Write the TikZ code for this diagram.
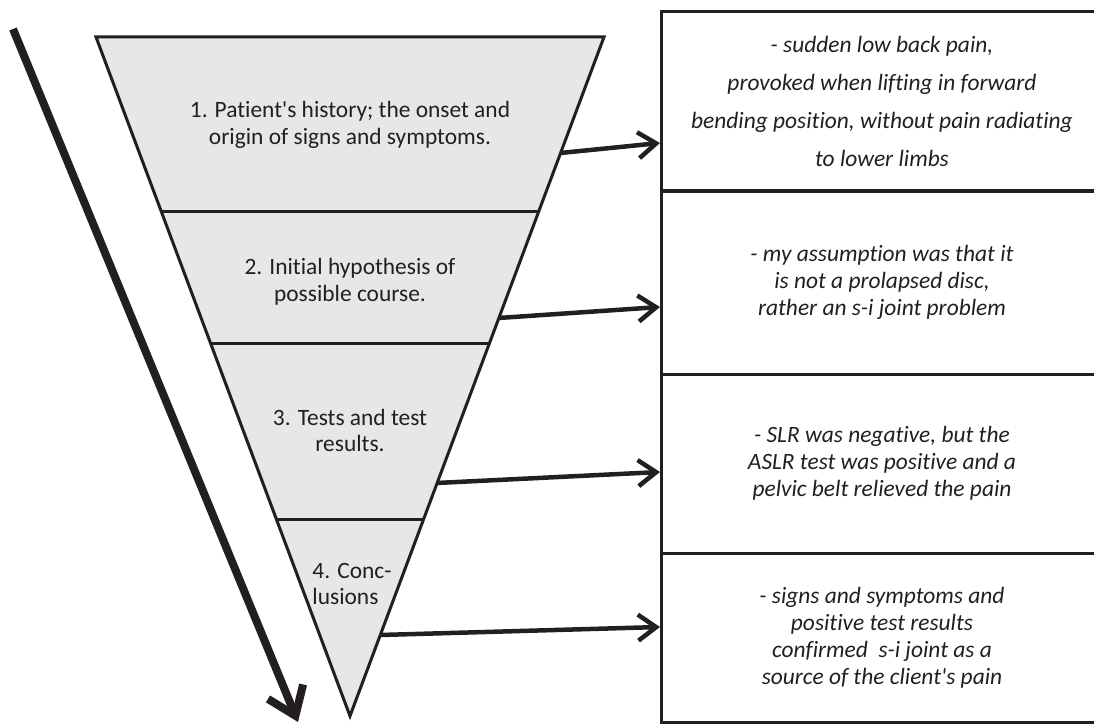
\documentclass[tikz,border=0pt]{standalone}
\usepackage{fontspec}
\setmainfont{Carlito}[Ligatures={NoCommon}]
\usetikzlibrary{arrows.meta,calc}
\definecolor{ink}{RGB}{35,31,32}
\definecolor{funnel}{RGB}{232,230,232}
\begin{document}
\begin{tikzpicture}[x=1bp,y=-1bp,
  lab/.style={font=\fontsize{23.5}{27}\selectfont, text=ink, align=center, inner sep=0pt},
  note/.style={draw=ink, line width=3bp, minimum width=442bp, inner sep=0pt,
    font=\fontsize{23.5}{27}\selectfont\itshape, text=ink, align=center},
  conn/.style={draw=ink, line width=4.5bp, -{Straight Barb[length=18bp,width=26bp]}},
  edge/.style={draw=ink, line width=3bp},
]
\useasboundingbox (0,0) rectangle (1094,726);
\clip (0,0) rectangle (1094,726);
% right boxes
\node[note, minimum height=179bp, font=\fontsize{23.5}{38}\selectfont\itshape] (b1) at (882,101.5)
  {- sudden low back pain,\\provoked when lifting in forward\\bending position, without pain radiating\\to lower limbs};
\node[note, minimum height=183bp] (b2) at (882,282.5)
  {- my assumption was that it\\is not a prolapsed disc,\\rather an s-i joint problem};
\node[note, minimum height=179bp] (b3) at (882,463.5)
  {- SLR was negative, but the\\ASLR test was positive and a\\pelvic belt relieved the pain};
\node[note, minimum height=169bp] (b4) at (882,637.5)
  {- signs and symptoms and\\positive test results\\confirmed\ \ s-i joint as a\\source of the client\textquotesingle s pain};
% funnel
\coordinate (A) at (96,37);
\coordinate (B) at (604,37);
\coordinate (C) at (350,716);
\filldraw[fill=funnel, edge] (A) -- (B) -- (C) -- cycle;
\foreach \t in {0.2563,0.4507,0.7099}
  \draw[edge] ($(A)!\t!(C)$) -- ($(B)!\t!(C)$);
\node[lab] (l1) at (350,125) {1. Patient\textquotesingle s history; the onset and\\origin of signs and symptoms.};
\node[lab] (l2) at (350,281.5) {2. Initial hypothesis of\\possible course.};
\node[lab] (l3) at (350,430.5) {3. Tests and test\\results.};
\node[lab, align=left] (l4) at (352,584) {4. Conc-\\lusions};
% connectors
\coordinate (p1) at ($(B)!0.1708!(C)$);
\coordinate (p2) at ($(B)!0.4138!(C)$);
\coordinate (p3) at ($(B)!0.6568!(C)$);
\coordinate (p4) at ($(B)!0.8807!(C)$);
\coordinate (t1) at (660,143);
\coordinate (t2) at (660,307);
\coordinate (t3) at (660,472);
\coordinate (t4) at (660,627);
\draw[conn] (p1) -- (t1);
\draw[conn] (p2) -- (t2);
\draw[conn] (p3) -- (t3);
\draw[conn] (p4) -- (t4);
% big arrow
\coordinate (s) at (13,29);
\coordinate (e) at (298,722);
\draw[ink, line width=8bp, -{Straight Barb[length=26bp,width=38bp]}] (s) -- (e);
\end{tikzpicture}
\end{document}
